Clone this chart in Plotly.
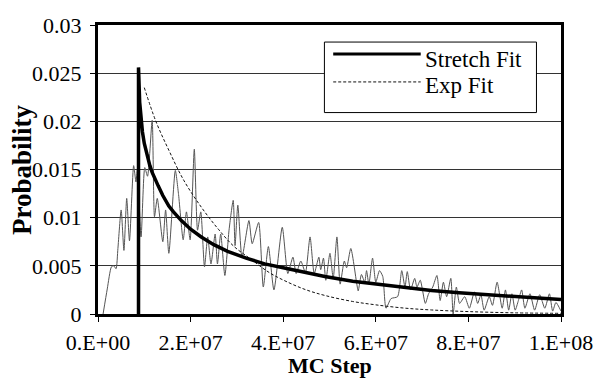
import plotly.graph_objects as go

# ---- data (x in MC steps, y probability) ----
sim_x_m = [1.1, 2.0, 2.9, 3.4, 3.9, 4.3, 5.0, 5.6, 6.2, 6.8, 7.7, 8.2, 8.5, 9.3, 10.1, 10.7,
           11.7, 12.2, 12.8, 14.0, 14.6, 15.3, 16.7, 17.4, 18.4, 19.1, 19.9, 20.8, 21.5, 22.2,
           23.0, 23.7, 24.4, 25.3, 25.8, 26.5, 27.4, 28.3, 29.2, 29.6, 30.2, 31.1, 32.6, 33.3,
           34.7, 35.7, 36.8, 38.0, 39.8, 41.0, 42.1, 42.8, 43.8, 44.8, 45.8, 46.7, 47.7, 48.1,
           48.7, 49.2, 50.1, 50.8, 51.6, 52.3, 53.2, 53.7, 54.6, 55.9, 56.2, 56.9, 57.6, 58.0,
           58.5, 59.3, 60.0, 60.8, 61.5, 62.2, 63.3, 64.7, 65.6, 66.3, 66.8, 67.5, 68.4, 68.9,
           69.6, 70.7, 71.4, 72.3, 73.2, 73.9, 74.6, 75.3, 76.2, 76.7, 77.4, 78.1, 79.2, 80.2,
           81.3, 82.0, 82.7, 83.4, 84.5, 85.2, 86.2, 87.3, 88.0, 88.7, 89.4, 90.1, 90.8, 91.5,
           92.2, 93.3, 94.3, 95.4, 96.5, 97.5, 98.2, 98.9, 100.0]
sim_y_m = [0.0, 2.6, 4.9, 5.0, 4.7, 6.8, 10.8, 6.6, 12.0, 7.6, 15.4, 13.7, 15.0, 8.0, 15.2, 14.3,
           20.1, 10.1, 12.0, 7.5, 10.8, 6.3, 14.9, 12.4, 7.7, 10.6, 7.7, 17.1, 8.7, 10.6,
           4.9, 8.0, 5.2, 8.3, 5.2, 8.3, 4.0, 8.7, 11.8, 7.1, 11.3, 5.9, 9.7, 7.3,
           9.5, 2.8, 7.0, 2.5, 9.0, 4.2, 5.9, 4.2, 5.5, 4.3, 8.0, 4.2, 5.9, 4.6,
           5.8, 3.5, 6.3, 3.7, 8.0, 3.1, 5.5, 4.8, 6.8, 3.1, 2.4, 4.1, 3.3, 4.5,
           3.1, 5.8, 3.3, 4.5, 3.9, 0.6, 1.6, 1.8, 4.5, 2.8, 4.4, 2.5, 3.7, 2.8,
           3.5, 1.1, 2.1, 2.8, 4.0, 1.4, 3.3, 1.8, 3.7, 0.0, 2.8, 1.1, 1.8, 0.6,
           2.3, 1.1, 2.0, 0.4, 1.8, 0.9, 3.3, 0.6, 2.5, 0.4, 2.1, 0.4, 1.4, 2.5,
           0.6, 2.1, 0.4, 2.0, 0.6, 2.1, 0.3, 1.2, 0.3]

stretch_x_m = [8.75, 8.75, 9.0, 9.3, 9.6, 10.0, 10.7, 11.2, 11.7, 12.3, 13.0, 14.0, 15.3, 16.3,
               18.0, 20.0, 22.3, 25.0, 28.0, 32.0, 36.0, 40.0, 45.0, 49.0, 55.0, 60.0, 66.0,
               72.0, 78.0, 84.0, 90.0, 95.0, 100.0]
stretch_y_m = [0.0, 25.6, 22.0, 20.0, 18.9, 17.7, 16.3, 15.4, 14.7, 14.0, 13.3, 12.3, 11.2, 10.6,
               9.7, 8.8, 8.0, 7.2, 6.5, 5.8, 5.2, 4.8, 4.3, 3.9, 3.4, 3.1, 2.75,
               2.45, 2.2, 2.0, 1.8, 1.65, 1.5]

exp_x_m = [10.0, 12.5, 15.3, 18.5, 22.3, 26.0, 29.4, 33.0, 37.0, 41.0, 45.0, 49.2, 55.0, 60.0,
           66.0, 72.0, 80.0, 90.0, 100.0]
exp_y_m = [23.5, 20.0, 17.0, 13.9, 11.1, 8.8, 7.0, 5.7, 4.3, 3.3, 2.5, 1.9, 1.3, 0.95,
           0.62, 0.42, 0.25, 0.12, 0.07]

x_ticks = [0, 2e7, 4e7, 6e7, 8e7, 1e8]
x_tick_text = ["0.E+00", "2.E+07", "4.E+07", "6.E+07", "8.E+07", "1.E+08"]
y_ticks = [0, 0.005, 0.01, 0.015, 0.02, 0.025, 0.03]
y_tick_text = ["0", "0.005", "0.01", "0.015", "0.02", "0.025", "0.03"]
legend_names = ["Stretch Fit", "Exp Fit"]
x_title = "MC Step"
y_title = "Probability"

sim_x = [v * 1e6 for v in sim_x_m]
sim_y = [v * 1e-3 for v in sim_y_m]
stretch_x = [v * 1e6 for v in stretch_x_m]
stretch_y = [v * 1e-3 for v in stretch_y_m]
exp_x = [v * 1e6 for v in exp_x_m]
exp_y = [v * 1e-3 for v in exp_y_m]

FONT = "Liberation Serif"

fig = go.Figure()
fig.add_trace(go.Scatter(x=sim_x, y=sim_y, mode="lines",
                         line=dict(color="#555555", width=1, shape="spline", smoothing=0.6),
                         showlegend=False))
fig.add_trace(go.Scatter(x=exp_x, y=exp_y, mode="lines",
                         line=dict(color="#111111", width=1, dash="3px,2px", shape="spline"),
                         showlegend=False))
fig.add_trace(go.Scatter(x=stretch_x, y=stretch_y, mode="lines",
                         line=dict(color="black", width=3.5),
                         showlegend=False))

# custom legend (Excel style)
lx0, lx1 = 0.489, 0.947
ly0, ly1 = 0.697, 0.941
fig.add_shape(type="rect", xref="paper", yref="paper", x0=lx0, x1=lx1, y0=ly0, y1=ly1,
              line=dict(color="black", width=1), fillcolor="white", layer="above")
fig.add_shape(type="line", xref="paper", yref="paper", x0=0.508, x1=0.697, y0=0.900, y1=0.900,
              line=dict(color="black", width=3), layer="above")
fig.add_shape(type="line", xref="paper", yref="paper", x0=0.508, x1=0.697, y0=0.803, y1=0.803,
              line=dict(color="#111111", width=1, dash="3px,2px"), layer="above")
for name, yy in zip(legend_names, [0.880, 0.792]):
    fig.add_annotation(x=0.703, y=yy, xref="paper", yref="paper", text=name,
                       showarrow=False, xanchor="left", yanchor="middle",
                       font=dict(family=FONT, size=23, color="black"))

# axis titles
fig.add_annotation(x=-0.165, y=0.5, xref="paper", yref="paper", text="<b>" + y_title + "</b>",
                   textangle=-90, showarrow=False, xanchor="center", yanchor="middle",
                   font=dict(family=FONT, size=27, color="black"))
fig.add_annotation(x=0.5, y=-0.178, xref="paper", yref="paper", text="<b>" + x_title + "</b>",
                   showarrow=False, xanchor="center", yanchor="middle",
                   font=dict(family=FONT, size=22, color="black"))

tickfont = dict(family=FONT, size=22, color="black")
fig.update_layout(
    width=605, height=378,
    margin=dict(l=98, r=35, t=25, b=64),
    paper_bgcolor="white", plot_bgcolor="white",
    font=dict(family=FONT, size=22, color="black"),
    showlegend=False,
)
fig.update_xaxes(range=[0, 1e8], tickvals=x_ticks, ticktext=x_tick_text, tickfont=tickfont,
                 showline=True, linecolor="black", linewidth=3, mirror=True,
                 ticks="outside", ticklen=5, tickcolor="black", tickwidth=1,
                 showgrid=False, zeroline=False, ticklabelstandoff=2)
fig.update_yaxes(range=[0, 0.03], tickvals=y_ticks, ticktext=y_tick_text, tickfont=tickfont,
                 showline=True, linecolor="black", linewidth=3, mirror=True,
                 ticks="outside", ticklen=5, tickcolor="black", tickwidth=1,
                 showgrid=True, gridcolor="#333333", gridwidth=1, zeroline=False,
                 ticklabelstandoff=4)

fig.write_html("out.html")
